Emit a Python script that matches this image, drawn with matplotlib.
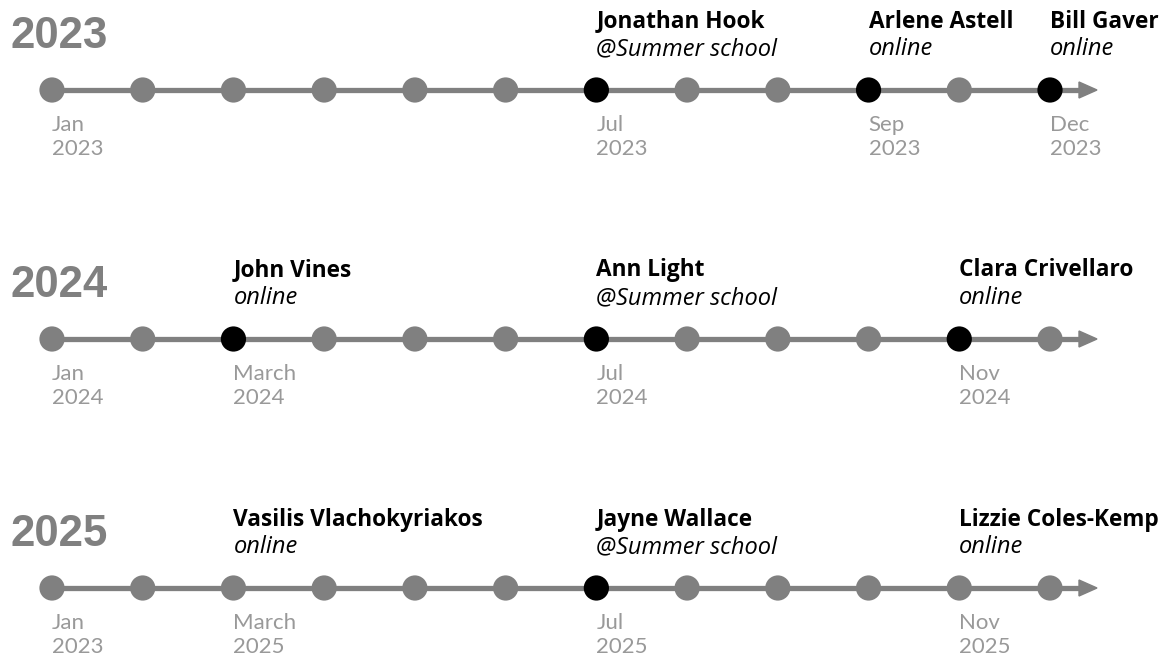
import matplotlib
matplotlib.use("Agg")
import matplotlib.pyplot as plt
from matplotlib.patches import Polygon

# ---- data ----
years = ["2023", "2024", "2025"]
n_months = 12

label_idx_2023 = [0, 6, 9, 11]
label_txt_2023 = [("Jan", "2023"), ("Jul", "2023"), ("Sep", "2023"), ("Dec", "2023")]
label_idx_2024 = [0, 2, 6, 10]
label_txt_2024 = [("Jan", "2024"), ("March", "2024"), ("Jul", "2024"), ("Nov", "2024")]
label_idx_2025 = [0, 2, 6, 10]
label_txt_2025 = [("Jan", "2023"), ("March", "2025"), ("Jul", "2025"), ("Nov", "2025")]

event_idx_2023 = [6, 9, 11]
event_name_2023 = ["Jonathan Hook", "Arlene Astell", "Bill Gaver"]
event_venue_2023 = ["@Summer school", "online", "online"]
event_idx_2024 = [2, 6, 10]
event_name_2024 = ["John Vines", "Ann Light", "Clara Crivellaro"]
event_venue_2024 = ["online", "@Summer school", "online"]
event_idx_2025 = [2, 6, 10]
event_name_2025 = ["Vasilis Vlachokyriakos", "Jayne Wallace", "Lizzie Coles-Kemp"]
event_venue_2025 = ["online", "@Summer school", "online"]

highlight_2023 = [6, 9, 11]
highlight_2024 = [2, 6, 10]
highlight_2025 = [6]

rows = [
    (label_idx_2023, label_txt_2023, event_idx_2023, event_name_2023, event_venue_2023, highlight_2023),
    (label_idx_2024, label_txt_2024, event_idx_2024, event_name_2024, event_venue_2024, highlight_2024),
    (label_idx_2025, label_txt_2025, event_idx_2025, event_name_2025, event_venue_2025, highlight_2025),
]

# ---- figure ----
W, H = 1172, 657
fig = plt.figure(figsize=(W / 100, H / 100), dpi=100)
ax = fig.add_axes([0, 0, 1, 1])
px_per_month = (1050 - 52) / 11
px_per_row = 249
ax.set_xlim(-52 / px_per_month, (W - 52) / px_per_month)
ax.set_ylim((H - 90) / px_per_row, -90 / px_per_row)
ax.axis("off")

GRAY = "#808080"
LABEL_GRAY = "#999999"
FONT = "Open Sans"

dy = lambda px: px / px_per_row
dx = lambda px: px / px_per_month

for r, (year, (lidx, ltxt, eidx, ename, evenue, hl)) in enumerate(zip(years, rows)):
    end = 11 + dx(47)
    ax.plot([0, end - dx(12)], [r, r], color=GRAY, lw=3.8, solid_capstyle="butt", zorder=1)
    tri = Polygon([[end - dx(18), r - dy(8)], [end, r], [end - dx(18), r + dy(8)]],
                  closed=True, color=GRAY, zorder=1)
    ax.add_patch(tri)
    xs = list(range(n_months))
    cols = ["black" if i in hl else GRAY for i in xs]
    ax.scatter(xs, [r] * n_months, s=330, c=cols, zorder=3, linewidths=0)

    ax.text(dx(11 - 52), r - dy(42), year, fontsize=31.5, fontweight="bold",
            family="Liberation Sans", color=GRAY, va="baseline", ha="left")

    for i, (m, y) in zip(lidx, ltxt):
        ax.text(i, r + dy(41), m, fontsize=16, family="Lato",
                color=LABEL_GRAY, va="baseline", ha="left")
        ax.text(i, r + dy(65), y, fontsize=16, family="Lato",
                color=LABEL_GRAY, va="baseline", ha="left")

    for i, n, v in zip(eidx, ename, evenue):
        ax.text(i, r - dy(62.5), n, fontsize=16.3, family=FONT, fontweight="bold",
                color="black", va="baseline", ha="left")
        ax.text(i, r - dy(35), v, fontsize=17, family=FONT, style="italic",
                color="black", va="baseline", ha="left")

fig.savefig("out.png", dpi=100, facecolor="white")
